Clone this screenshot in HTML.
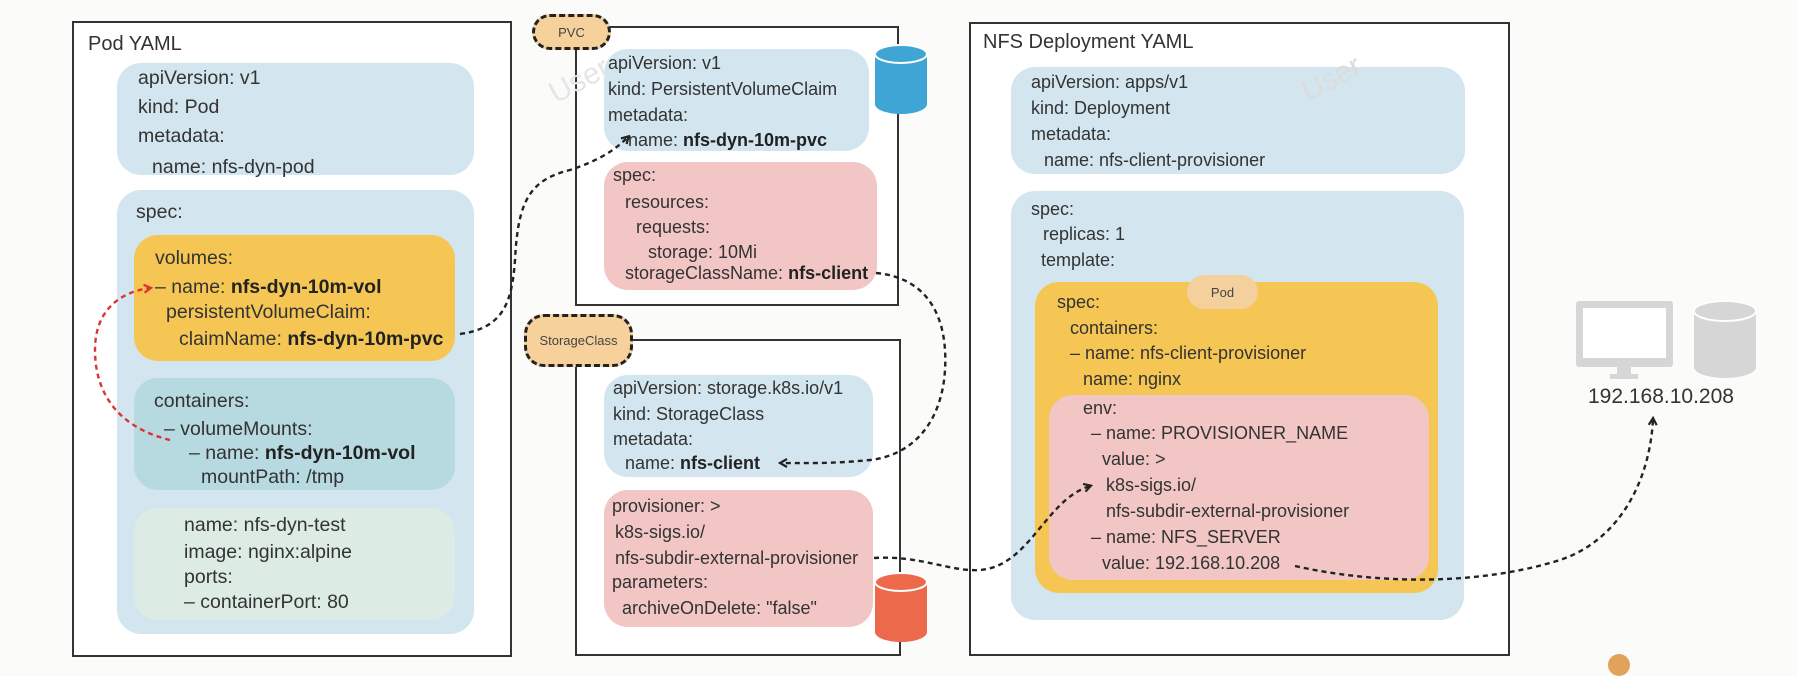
<!DOCTYPE html>
<html><head><meta charset="utf-8">
<style>
*{margin:0;padding:0;box-sizing:border-box}
body{width:1798px;height:664px;background:#fbfbf9;position:relative;overflow:hidden;font-family:"Liberation Sans",sans-serif;color:#333}
.b{position:absolute}
.frame{border:2px solid #333;background:#fff}
.r{border-radius:24px}
.t{position:absolute;white-space:nowrap;line-height:22px;font-size:18px}
.p{font-size:19.5px}
b{font-weight:bold;color:#222}
.tag{border:3px dashed #222;background:#f6d19c;border-radius:20px;font-size:13px;display:flex;align-items:center;justify-content:center;color:#444}
</style></head><body>
<!-- Pod YAML -->
<div class="b frame" style="left:72px;top:21px;width:440px;height:636px"></div>
<div class="t" style="left:88px;top:33px;font-size:20px">Pod YAML</div>
<div class="b r" style="left:117px;top:63px;width:357px;height:112px;background:#d3e5ee"></div>
<div class="t p" style="left:138px;top:67px">apiVersion: v1</div>
<div class="t p" style="left:138px;top:96px">kind: Pod</div>
<div class="t p" style="left:138px;top:125px">metadata:</div>
<div class="t p" style="left:152px;top:156px">name: nfs-dyn-pod</div>
<div class="b r" style="left:117px;top:190px;width:357px;height:444px;background:#d3e5ee"></div>
<div class="t p" style="left:136px;top:201px">spec:</div>
<div class="b r" style="left:134px;top:235px;width:321px;height:126px;background:#f5c653"></div>
<div class="t p" style="left:155px;top:247px">volumes:</div>
<div class="t p" style="left:155px;top:276px">– name: <b>nfs-dyn-10m-vol</b></div>
<div class="t p" style="left:166px;top:301px">persistentVolumeClaim:</div>
<div class="t p" style="left:179px;top:328px">claimName: <b>nfs-dyn-10m-pvc</b></div>
<div class="b r" style="left:134px;top:378px;width:321px;height:112px;background:#b6dadf"></div>
<div class="t p" style="left:154px;top:390px">containers:</div>
<div class="t p" style="left:164px;top:418px">– volumeMounts:</div>
<div class="t p" style="left:189px;top:442px">– name: <b>nfs-dyn-10m-vol</b></div>
<div class="t p" style="left:201px;top:466px">mountPath: /tmp</div>
<div class="b r" style="left:134px;top:508px;width:321px;height:112px;background:#dcebe3"></div>
<div class="t p" style="left:184px;top:514px">name: nfs-dyn-test</div>
<div class="t p" style="left:184px;top:541px">image: nginx:alpine</div>
<div class="t p" style="left:184px;top:566px">ports:</div>
<div class="t p" style="left:184px;top:591px">– containerPort: 80</div>

<!-- PVC -->
<div class="b frame" style="left:575px;top:26px;width:324px;height:280px"></div>
<div class="b tag" style="left:532px;top:14px;width:79px;height:36px">PVC</div>
<div class="b r" style="left:604px;top:49px;width:265px;height:102px;background:#d3e5ee"></div>
<div class="t" style="left:608px;top:52px">apiVersion: v1</div>
<div class="t" style="left:608px;top:78px">kind: PersistentVolumeClaim</div>
<div class="t" style="left:608px;top:104px">metadata:</div>
<div class="t" style="left:628px;top:129px">name: <b>nfs-dyn-10m-pvc</b></div>
<div class="b r" style="left:604px;top:162px;width:273px;height:128px;background:#f1c6c4"></div>
<div class="t" style="left:613px;top:164px">spec:</div>
<div class="t" style="left:625px;top:191px">resources:</div>
<div class="t" style="left:636px;top:216px">requests:</div>
<div class="t" style="left:648px;top:241px">storage: 10Mi</div>
<div class="t" style="left:625px;top:262px">storageClassName: <b>nfs-client</b></div>
<svg class="b" style="left:874px;top:44px" width="56" height="72"><path d="M1,10 v50 a26,10 0 0 0 52,0 v-50 z" fill="#3fa5d5"/><ellipse cx="27" cy="10" rx="26" ry="9" fill="#3fa5d5" stroke="#fff" stroke-width="2"/></svg>

<!-- StorageClass -->
<div class="b frame" style="left:575px;top:339px;width:326px;height:317px"></div>
<div class="b tag" style="left:524px;top:314px;width:109px;height:53px">StorageClass</div>
<div class="b r" style="left:604px;top:375px;width:269px;height:102px;background:#d3e5ee"></div>
<div class="t" style="left:613px;top:377px">apiVersion: storage.k8s.io/v1</div>
<div class="t" style="left:613px;top:403px">kind: StorageClass</div>
<div class="t" style="left:613px;top:428px">metadata:</div>
<div class="t" style="left:625px;top:452px">name: <b>nfs-client</b></div>
<div class="b r" style="left:604px;top:490px;width:269px;height:137px;background:#f1c6c4"></div>
<div class="t" style="left:612px;top:495px">provisioner: &gt;</div>
<div class="t" style="left:615px;top:521px">k8s-sigs.io/</div>
<div class="t" style="left:615px;top:547px">nfs-subdir-external-provisioner</div>
<div class="t" style="left:612px;top:571px">parameters:</div>
<div class="t" style="left:622px;top:597px">archiveOnDelete: "false"</div>
<svg class="b" style="left:874px;top:572px" width="56" height="72"><path d="M1,10 v50 a26,10 0 0 0 52,0 v-50 z" fill="#ec6a4b"/><ellipse cx="27" cy="10" rx="26" ry="9" fill="#ec6a4b" stroke="#fff" stroke-width="2"/></svg>

<!-- NFS Deployment -->
<div class="b frame" style="left:969px;top:22px;width:541px;height:634px"></div>
<div class="t" style="left:983px;top:31px;font-size:20px">NFS Deployment YAML</div>
<div class="b r" style="left:1011px;top:67px;width:454px;height:107px;background:#d3e5ee"></div>
<div class="t" style="left:1031px;top:71px">apiVersion: apps/v1</div>
<div class="t" style="left:1031px;top:97px">kind: Deployment</div>
<div class="t" style="left:1031px;top:123px">metadata:</div>
<div class="t" style="left:1044px;top:149px">name: nfs-client-provisioner</div>
<div class="b r" style="left:1011px;top:191px;width:453px;height:429px;background:#d3e5ee"></div>
<div class="t" style="left:1031px;top:198px">spec:</div>
<div class="t" style="left:1043px;top:223px">replicas: 1</div>
<div class="t" style="left:1041px;top:249px">template:</div>
<div class="b r" style="left:1035px;top:282px;width:403px;height:311px;background:#f5c653"></div>
<div class="b" style="left:1187px;top:275px;width:71px;height:34px;border-radius:17px;background:#f4d09c;font-size:13px;display:flex;align-items:center;justify-content:center;color:#444">Pod</div>
<div class="t" style="left:1057px;top:291px">spec:</div>
<div class="t" style="left:1070px;top:317px">containers:</div>
<div class="t" style="left:1070px;top:342px">– name: nfs-client-provisioner</div>
<div class="t" style="left:1083px;top:368px">name: nginx</div>
<div class="b r" style="left:1049px;top:395px;width:380px;height:185px;background:#f1c6c4"></div>
<div class="t" style="left:1083px;top:397px">env:</div>
<div class="t" style="left:1091px;top:422px">– name: PROVISIONER_NAME</div>
<div class="t" style="left:1102px;top:448px">value: &gt;</div>
<div class="t" style="left:1106px;top:474px">k8s-sigs.io/</div>
<div class="t" style="left:1106px;top:500px">nfs-subdir-external-provisioner</div>
<div class="t" style="left:1091px;top:526px">– name: NFS_SERVER</div>
<div class="t" style="left:1102px;top:552px">value: 192.168.10.208</div>

<!-- watermarks -->
<div class="t" style="left:548px;top:70px;font-size:30px;color:#e6e6e6;transform:rotate(-28deg)">User</div>
<div class="t" style="left:1300px;top:68px;font-size:30px;color:#dcdcdc;transform:rotate(-28deg)">User</div>

<!-- server -->
<svg class="b" style="left:1574px;top:299px" width="190" height="84">
<rect x="2" y="2" width="97" height="66" rx="3" fill="#d6d6d6"/>
<rect x="9" y="9" width="83" height="50" fill="#fff"/>
<rect x="43" y="68" width="14" height="8" fill="#d6d6d6"/>
<rect x="36" y="75" width="28" height="5" fill="#d6d6d6"/>
<path d="M120,12 v56 a31,11 0 0 0 62,0 v-56 z" fill="#d6d6d6"/>
<ellipse cx="151" cy="12" rx="31" ry="10" fill="#d6d6d6" stroke="#fff" stroke-width="2"/>
</svg>
<div class="t" style="left:1588px;top:386px;font-size:21px">192.168.10.208</div>
<div class="b" style="left:1608px;top:654px;width:22px;height:22px;border-radius:50%;background:#e1a25a"></div>

<!-- connectors -->
<svg class="b" style="left:0;top:0" width="1798" height="664">
<defs>
<marker id="ak" markerWidth="10" markerHeight="10" refX="7" refY="5" orient="auto" markerUnits="userSpaceOnUse"><path d="M1,1 L8,5 L1,9" fill="none" stroke="#222" stroke-width="2.2"/></marker>
<marker id="ar" markerWidth="10" markerHeight="10" refX="7" refY="5" orient="auto" markerUnits="userSpaceOnUse"><path d="M1,1 L8,5 L1,9" fill="none" stroke="#d33" stroke-width="2.2"/></marker>
</defs>
<g fill="none" stroke-width="2.4" stroke-dasharray="5,4">
<path d="M460,334 C505,328 512,300 515,260 C518,200 530,180 570,170 C600,160 615,150 628,137" stroke="#222" marker-end="url(#ak)"/>
<path d="M170,440 C120,428 95,395 95,350 C95,310 120,292 150,288" stroke="#d33" marker-end="url(#ar)"/>
<path d="M876,273 C930,278 948,320 945,370 C942,420 915,455 870,460 C830,464 800,463 781,463" stroke="#222" marker-end="url(#ak)"/>
<path d="M874,558 C920,555 950,572 980,570 C1030,566 1045,500 1090,486" stroke="#222" marker-end="url(#ak)"/>
<path d="M1295,566 C1380,585 1480,585 1560,560 C1620,540 1650,480 1653,419" stroke="#222" marker-end="url(#ak)"/>
</g>
</svg>
</body></html>
